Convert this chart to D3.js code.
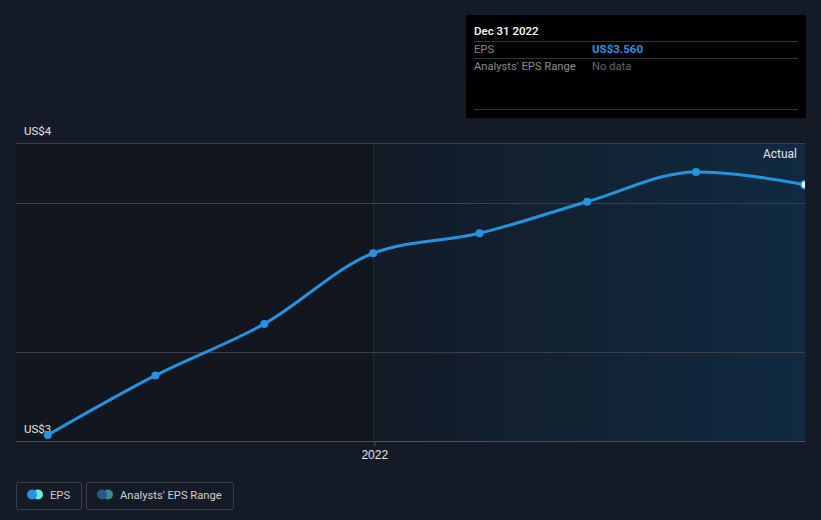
<html>
  <head>
    <meta charset="utf-8" />
    <script src="https://d3js.org/d3.v7.min.js"></script>
  </head>
  <style>
    body { margin: 0; background: #151b26; }
    svg { display: block; font-family: Roboto, "Noto Sans", sans-serif; }
  </style>
  <body>
    <div id="viz"><svg></svg></div>
    <script>
      // quarterly EPS values (US$)
      var dates = ["2021-03-31", "2021-06-30", "2021-09-30", "2021-12-31",
                   "2022-03-31", "2022-06-30", "2022-09-30", "2022-12-31"];
      var eps = [2.72, 2.92, 3.093, 3.33, 3.397, 3.503, 3.603, 3.56];
      var yTicks = [3.0, 3.5];
      var yLabels = [{ v: 3.7, t: "US$4" }, { v: 2.7, t: "US$3" }];
      var xTicks = ["2022-01-01"];

      var W = 821, H = 520;
      var parse = d3.timeParse("%Y-%m-%d");
      var data = dates.map(function (d, i) { return { date: parse(d), v: eps[i] }; });

      var svg = d3.select("svg").attr("width", W).attr("height", H);

      var x = d3.scaleTime()
        .domain([parse("2021-03-05"), parse("2023-01-01")])
        .range([17, 806]);
      var y = d3.scaleLinear().domain([2.7, 3.7]).range([441, 143]);

      var defs = svg.append("defs");
      var grad = defs.append("linearGradient").attr("id", "fut")
        .attr("x1", "0%").attr("x2", "100%");
      grad.append("stop").attr("offset", "0%").attr("stop-color", "#131b27");
      grad.append("stop").attr("offset", "100%").attr("stop-color", "#112a41");
      defs.append("clipPath").attr("id", "clip").append("rect")
        .attr("x", 16).attr("y", 130).attr("width", 789).attr("height", 320);

      var split = Math.round(x(parse("2021-12-31"))) + 0.5;
      // past area
      svg.append("rect").attr("x", 16).attr("y", 143)
        .attr("width", split - 16).attr("height", 298).attr("fill", "#12161e");
      // highlighted area
      svg.append("rect").attr("x", split).attr("y", 143)
        .attr("width", 805 - split).attr("height", 298).attr("fill", "url(#fut)");
      svg.append("line").attr("x1", split).attr("x2", split)
        .attr("y1", 143).attr("y2", 441).attr("stroke", "#1c2b33").attr("stroke-width", 1);

      // gridlines
      svg.selectAll(".grid").data(yTicks.concat([3.7])).enter().append("line")
        .attr("x1", 16).attr("x2", 805)
        .attr("y1", function (d) { return Math.round(y(d)) + 0.5; })
        .attr("y2", function (d) { return Math.round(y(d)) + 0.5; })
        .attr("stroke", "#3a3f48").attr("stroke-width", 1);

      // x axis
      var xAxis = d3.axisBottom(x)
        .tickValues(xTicks.map(parse))
        .tickFormat(d3.timeFormat("%Y"))
        .tickSize(5).tickPadding(4);
      var gx = svg.append("g").attr("transform", "translate(0,441)").call(xAxis);
      gx.select(".domain").attr("stroke", "#4a4f58").attr("d", "M16,0.5H805");
      gx.selectAll(".tick line").attr("stroke", "#4a4f58");
      gx.selectAll(".tick text").attr("fill", "#e6e6e6").attr("font-size", 12);

      // y labels
      svg.selectAll(".ylab").data(yLabels).enter().append("text")
        .attr("x", 24).attr("y", function (d) { return y(d.v) - 8; })
        .attr("fill", "#e6e6e6").attr("font-size", 11.5)
        .text(function (d) { return d.t; });

      svg.append("text").attr("x", 797).attr("y", 158).attr("text-anchor", "end")
        .attr("fill", "#e6e6e6").attr("font-size", 12).text("Actual");

      // line
      var line = d3.line()
        .x(function (d) { return x(d.date); })
        .y(function (d) { return y(d.v); })
        .curve(d3.curveMonotoneX);
      var g = svg.append("g").attr("clip-path", "url(#clip)");
      g.append("path").datum(data).attr("d", line)
        .attr("fill", "none").attr("stroke", "#2394df").attr("stroke-width", 3);
      g.selectAll("circle").data(data).enter().append("circle")
        .attr("cx", function (d) { return x(d.date); })
        .attr("cy", function (d) { return y(d.v); })
        .attr("r", 4)
        .attr("fill", function (d, i) { return i === data.length - 1 ? "#e8f4ff" : "#2394df"; })
        .attr("stroke", "#2394df")
        .attr("stroke-width", function (d, i) { return i === data.length - 1 ? 1.5 : 0; });

      // tooltip
      var tt = svg.append("g").attr("transform", "translate(466,15)");
      tt.append("rect").attr("width", 340).attr("height", 103).attr("fill", "#000");
      tt.append("text").attr("x", 8).attr("y", 20).attr("fill", "#fff")
        .attr("font-size", 11.5).attr("font-weight", 500).text("Dec 31 2022");
      [26, 43, 94].forEach(function (yy) {
        tt.append("line").attr("x1", 8).attr("x2", 332)
          .attr("y1", yy + 0.5).attr("y2", yy + 0.5).attr("stroke", "#333");
      });
      tt.append("text").attr("x", 8).attr("y", 38).attr("fill", "#8a8a8a")
        .attr("font-size", 11.2).text("EPS");
      tt.append("text").attr("x", 126).attr("y", 38).attr("fill", "#2394df")
        .attr("font-size", 11.5).attr("font-weight", "bold").text("US$3.560");
      tt.append("text").attr("x", 8).attr("y", 55).attr("fill", "#8a8a8a")
        .attr("font-size", 11.2).text("Analysts' EPS Range");
      tt.append("text").attr("x", 126).attr("y", 55).attr("fill", "#666")
        .attr("font-size", 11.2).text("No data");

      // legend
      var legend = [
        { label: "EPS", x: 16, w: 65, c1: "#2394df", c2: "#6ee8d8" },
        { label: "Analysts' EPS Range", x: 86, w: 147, c1: "#235a8a", c2: "#3c8a86" }
      ];
      var lg = svg.selectAll(".lg").data(legend).enter().append("g")
        .attr("transform", function (d) { return "translate(" + d.x + ",482)"; });
      lg.append("rect").attr("x", 0.5).attr("y", 0.5)
        .attr("width", function (d) { return d.w; }).attr("height", 27)
        .attr("rx", 2).attr("fill", "none").attr("stroke", "#3a3f48");
      lg.append("circle").attr("cx", 22).attr("cy", 12.5).attr("r", 5)
        .attr("fill", function (d) { return d.c2; });
      lg.append("circle").attr("cx", 16).attr("cy", 12.5).attr("r", 5)
        .attr("fill", function (d) { return d.c1; });
      lg.append("text").attr("x", 34).attr("y", 16.5).attr("fill", "#d0d0d0")
        .attr("font-size", 11.2).text(function (d) { return d.label; });
    </script>
  </body>
</html>
